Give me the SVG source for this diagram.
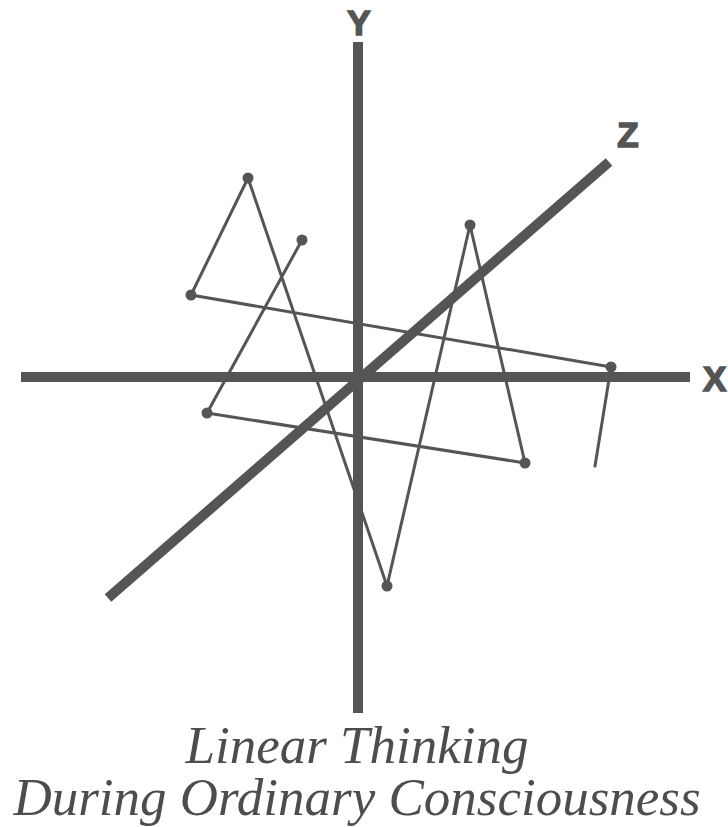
<svg xmlns="http://www.w3.org/2000/svg" width="728" height="827" viewBox="0 0 728 827">
<style>
.axis{stroke:#555;stroke-width:10;fill:none;stroke-linecap:butt}
.thin{stroke:#555;stroke-width:3;fill:none;stroke-linejoin:round;stroke-linecap:round}
.dot{fill:#555}
.lbl{font-family:"Liberation Sans",Arial,sans-serif;font-weight:700;font-size:35px;fill:#555;stroke:#555;stroke-width:1.6}
.cap{font-family:"Liberation Serif","Times New Roman",serif;font-style:italic;font-size:53px;fill:#4d4d4d;text-anchor:middle}
</style>
<rect width="728" height="827" fill="#fff"/>
<g id="connectors">
<polyline class="thin" points="595,466 611,367 191,295 248,178 387,586 470,225 525,463 207,413 302,240"/>
</g>
<g id="axes">
<g id="axis-y"><line class="axis" x1="358" y1="42" x2="358" y2="713"/><text class="lbl" x="359" y="35" text-anchor="middle">Y</text></g>
<g id="axis-x"><line class="axis" x1="21" y1="377" x2="690" y2="377"/><text class="lbl" x="703" y="391">X</text></g>
<g id="axis-z"><line class="axis" x1="108" y1="598" x2="609" y2="162"/><text class="lbl" x="628" y="147" text-anchor="middle">Z</text></g>
</g>
<g id="points">
<circle class="dot" cx="248" cy="178" r="5.5"/>
<circle class="dot" cx="191" cy="295" r="5.5"/>
<circle class="dot" cx="302" cy="240" r="5.5"/>
<circle class="dot" cx="207" cy="413" r="5.5"/>
<circle class="dot" cx="611" cy="367" r="5.5"/>
<circle class="dot" cx="525" cy="463" r="5.5"/>
<circle class="dot" cx="470" cy="225" r="5.5"/>
<circle class="dot" cx="387" cy="586" r="5.5"/>
</g>
<g id="caption">
<text class="cap"><tspan x="357" y="763">Linear Thinking</tspan><tspan x="357" y="815">During Ordinary Consciousness</tspan></text>
</g>
</svg>
